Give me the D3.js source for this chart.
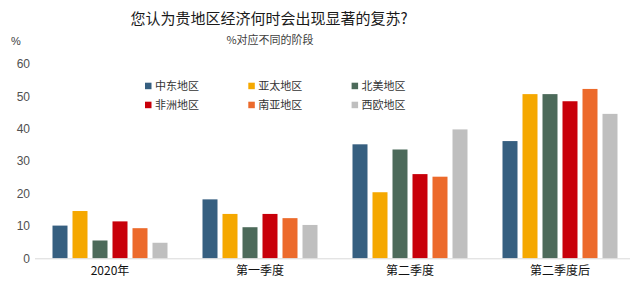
<!DOCTYPE html>
<html><head><meta charset="utf-8">
<script src="https://cdn.jsdelivr.net/npm/d3@7"></script>
<style>body{margin:0;background:#fff}svg{display:block}</style>
</head><body>
<script>
const categories = ["2020年", "第一季度", "第二季度", "第二季度后"];
const seriesNames = ["中东地区", "亚太地区", "北美地区", "非洲地区", "南亚地区", "西欧地区"];
const seriesColors = ["#365f80", "#f5a800", "#4c6a5a", "#c8000a", "#ec6a2b", "#bfbfbf"];
const middleEast   = [10.1, 18.2, 35.2, 36.2];
const asiaPacific  = [14.6, 13.7, 20.4, 50.7];
const northAmerica = [5.5, 9.6, 33.6, 50.7];
const africa       = [11.4, 13.7, 26.0, 48.5];
const southAsia    = [9.3, 12.4, 25.2, 52.3];
const westEurope   = [4.8, 10.3, 39.8, 44.6];
const seriesValues = [middleEast, asiaPacific, northAmerica, africa, southAsia, westEurope];
const yTicks = [0, 10, 20, 30, 40, 50, 60];
const title = "您认为贵地区经济何时会出现显著的复苏?";
const subtitle = "%对应不同的阶段";

const W = 630, H = 288;
const svg = d3.select("body").append("svg").attr("width", W).attr("height", H);
const font = "'Liberation Sans','Noto Sans CJK SC',sans-serif";

const x0 = d3.scaleBand().domain(categories).range([35, 635]).padding(0);
const x1 = d3.scaleBand().domain(seriesNames).range([0, x0.bandwidth()]).paddingInner(0.25).paddingOuter(0.875);
const y = d3.scaleLinear().domain([0, 60]).range([258.3, 64]);

// title
svg.append("text").attr("x", 269).attr("y", 24).attr("text-anchor", "middle")
  .attr("font-family", "'Noto Sans CJK SC',sans-serif").attr("font-size", 15).attr("fill", "#1a1a1a").text(title);
svg.append("text").attr("x", 270).attr("y", 44).attr("text-anchor", "middle")
  .attr("font-family", "'Noto Sans CJK SC',sans-serif").attr("font-size", 11).attr("fill", "#404040").text(subtitle);
svg.append("text").attr("x", 11).attr("y", 45)
  .attr("font-family", font).attr("font-size", 11).attr("fill", "#404040").text("%");

// y axis labels
const yAxis = d3.axisLeft(y).tickValues(yTicks).tickSize(0).tickPadding(0);
const gy = svg.append("g").attr("transform", "translate(30,0)").call(yAxis);
gy.select(".domain").remove();
gy.selectAll("text").attr("font-family", font).attr("font-size", 12).attr("fill", "#505050");

// bars
const groups = svg.append("g").selectAll("g").data(categories).join("g")
  .attr("transform", d => `translate(${x0(d)},0)`);
groups.selectAll("rect").data((c, ci) => seriesNames.map((s, si) => ({s, si, v: seriesValues[si][ci]})))
  .join("rect")
  .attr("x", d => x1(d.s)).attr("width", x1.bandwidth())
  .attr("y", d => y(d.v)).attr("height", d => y(0) - y(d.v))
  .attr("fill", d => seriesColors[d.si]);

// baseline
svg.append("line").attr("x1", 35).attr("x2", 630).attr("y1", y(0) + 0.5).attr("y2", y(0) + 0.5)
  .attr("stroke", "#d9d9d9").attr("stroke-width", 1);

// x axis labels
const xAxis = d3.axisBottom(x0).tickSize(0).tickPadding(0);
const gx = svg.append("g").attr("transform", `translate(0,${y(0) + 5})`).call(xAxis);
gx.select(".domain").remove();
gx.selectAll("text").attr("font-family", "'Noto Sans CJK SC',sans-serif").attr("font-size", 12).attr("fill", "#111").attr("dy", "0.95em");

// legend
const legend = svg.append("g");
seriesNames.forEach((s, i) => {
  const col = i % 3, row = Math.floor(i / 3);
  const lx = 145 + col * 103.3, ly = 85.7 + row * 19;
  legend.append("rect").attr("x", lx).attr("y", ly - 3).attr("width", 6.5).attr("height", 6.5).attr("fill", seriesColors[i]);
  legend.append("text").attr("x", lx + 10).attr("y", ly + 4)
    .attr("font-family", "'Noto Sans CJK SC',sans-serif").attr("font-size", 11).attr("fill", "#333").text(s);
});
</script>
</body></html>
